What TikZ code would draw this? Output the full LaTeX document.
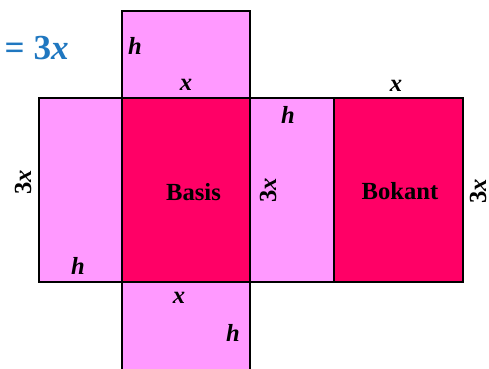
\documentclass[tikz,border=0pt]{standalone}
\usepackage{fontspec}
\setmainfont{Liberation Serif}
\usepackage{tikz}
\usetikzlibrary{positioning}
\definecolor{facepink}{HTML}{FF99FF}
\definecolor{basered}{HTML}{FF0066}
\definecolor{eqblue}{HTML}{1F77C0}
\tikzstyle{face}=[rectangle,draw=black,line width=1.2pt,fill=facepink,inner sep=0pt,outer sep=0pt]
\tikzstyle{dark}=[face,fill=basered]
\tikzstyle{lbl}=[font=\fontsize{14}{16}\selectfont\bfseries,inner sep=0pt]

\begin{document}
\begin{tikzpicture}[x=0.02cm,y=-0.02cm]
  \useasboundingbox (0,0) rectangle (489,368);
  % faces of the net
  \node[face,minimum width=2.56cm,minimum height=1.74cm] (topface) at (186,54.5) {};
  \node[face,minimum width=2.56cm,minimum height=1.8cm] (bottomface) at (186,327) {};
  \node[face,minimum width=1.66cm,minimum height=3.68cm] (leftface) at (80.5,190) {};
  \node[face,minimum width=1.68cm,minimum height=3.68cm] (sideface) at (292,190) {};
  \node[dark,minimum width=2.56cm,minimum height=3.68cm] (basis) at (186,190) {};
  \node[dark,minimum width=2.57cm,minimum height=3.68cm] (bokant) at (398.5,190) {};
  % labels
  \node[lbl,text=eqblue,font=\fontsize{20}{22}\selectfont\bfseries,anchor=east] (eq) at (69,48) {= 3\textit{x}};
  \node[lbl] (htop) at (135,46) {\textit{h}};
  \node[lbl] (xtop) at (186,84.5) {\textit{x}};
  \node[lbl] (xbokant) at (396,86) {\textit{x}};
  \node[lbl] (hside) at (288,115) {\textit{h}};
  \node[lbl] (hleft) at (78,266) {\textit{h}};
  \node[lbl] (xbottom) at (179,298) {\textit{x}};
  \node[lbl] (hbottom) at (233,333) {\textit{h}};
  \node[lbl] (basislbl) at (193.5,192) {Basis};
  \node[lbl] (bokantlbl) at (400,191) {Bokant};
  \node[lbl,rotate=90] (lenleft) at (23,182) {3\textit{x}};
  \node[lbl,rotate=90] (lenside) at (268,190) {3\textit{x}};
  \node[lbl,rotate=90] (lenright) at (478,191) {3\textit{x}};
\end{tikzpicture}
\end{document}
